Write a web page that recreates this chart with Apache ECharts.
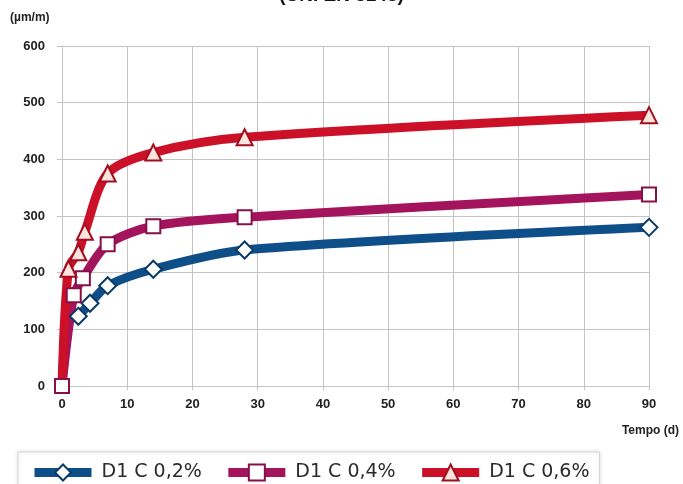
<!DOCTYPE html>
<html>
<head>
<meta charset="utf-8">
<script src="https://cdn.jsdelivr.net/npm/echarts@6/dist/echarts.min.js"></script>
<style>html,body{margin:0;padding:0;background:#fff}#c{width:683px;height:484px}</style>
</head>
<body>
<div id="c"></div>
<script>
const titleText = "(UNI EN 8148)";
const yUnit = "(µm/m)";
const xTitle = "Tempo (d)";
const seriesNames = ["D1 C 0,2%", "D1 C 0,4%", "D1 C 0,6%"];
const daysBlue = [2.5, 4.3, 7, 14, 28, 90];
const valsBlue = [123, 146, 177, 206, 240, 280];
const daysPink = [0, 1.8, 3.2, 7, 14, 28, 90];
const valsPink = [0, 160, 190, 250, 282, 298, 338];
const daysRed = [0, 1, 2.5, 3.5, 7, 14, 28, 90];
const valsRed = [0, 207, 236, 272, 375, 412, 439, 478];

function pts(xs, ys, hideFirst) {
  return xs.map((x, i) => {
    const p = { value: [x, ys[i]] };
    if (hideFirst && i === 0) p.symbol = 'none';
    return p;
  });
}

const chart = echarts.init(document.getElementById('c'));
const lblFont = { fontFamily: 'Liberation Sans', fontWeight: 'bold', fontSize: 13, color: '#222' };
const styles = [
  { color: '#0e4f8a', border: '#0a3a66', fill: '#ffffff', symbol: 'diamond', size: 17 },
  { color: '#a3145c', border: '#85104a', fill: '#ffffff', symbol: 'rect', size: 14 },
  { color: '#cc1028', border: '#a00e1f', fill: '#fde4dc', symbol: 'triangle', size: 16 }
];
const dataSets = [pts(daysBlue, valsBlue, false), pts(daysPink, valsPink, false), pts(daysRed, valsRed, true)];

chart.setOption({
  animation: false,
  backgroundColor: '#ffffff',
  title: {
    text: titleText, left: 'center', top: -19,
    textStyle: { fontFamily: 'Liberation Sans', fontWeight: 'bold', fontSize: 19, color: '#111' }
  },
  grid: { left: 62, right: 34, top: 46, bottom: 98 },
  xAxis: {
    type: 'value', min: 0, max: 90, interval: 10,
    axisLine: { show: true, lineStyle: { color: '#c4c4c4', width: 1 } },
    axisTick: { show: true, length: 4, lineStyle: { color: '#c4c4c4' } },
    axisLabel: Object.assign({ margin: 12 }, lblFont),
    splitLine: { show: true, lineStyle: { color: '#c4c4c4', width: 1 } }
  },
  yAxis: {
    type: 'value', min: 0, max: 600, interval: 100,
    axisLine: { show: true, lineStyle: { color: '#c4c4c4', width: 1 } },
    axisTick: { show: true, length: 5, lineStyle: { color: '#c4c4c4' } },
    axisLabel: Object.assign({ margin: 17 }, lblFont),
    splitLine: { show: true, lineStyle: { color: '#c4c4c4', width: 1 } }
  },
  graphic: [
    { type: 'text', left: 10, top: 12, style: { text: yUnit, font: 'bold 12px "Liberation Sans"', fill: '#222' } },
    { type: 'text', right: 4, top: 425, style: { text: xTitle, font: 'bold 12px "Liberation Sans"', fill: '#222' } }
  ],
  legend: {
    left: 18, top: 452,
    padding: [11, 10, 10, 12],
    itemGap: 22, itemWidth: 57, itemHeight: 20,
    borderColor: '#d6d6d6', borderWidth: 1,
    shadowColor: 'rgba(0,0,0,0.12)', shadowBlur: 4,
    backgroundColor: '#ffffff',
    lineStyle: { width: 9 },
    textStyle: { fontFamily: 'DejaVu Sans', fontSize: 19, color: '#2b2b2b', padding: [0, 0, 0, 5] },
    data: seriesNames
  },
  series: seriesNames.map((name, k) => ({
    name: name,
    type: 'line',
    smooth: 0.3,
    data: dataSets[k],
    symbol: styles[k].symbol,
    symbolSize: styles[k].size,
    lineStyle: { width: 9, color: styles[k].color },
    itemStyle: { color: styles[k].fill, borderColor: styles[k].border, borderWidth: 2 },
    color: styles[k].color
  }))
});
</script>
</body>
</html>
